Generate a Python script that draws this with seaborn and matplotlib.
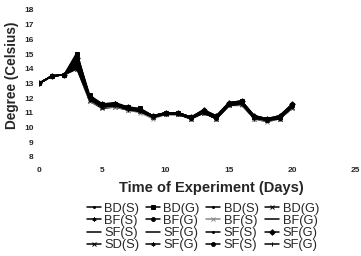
import numpy as np
import pandas as pd
import matplotlib
matplotlib.use("Agg")
import matplotlib.pyplot as plt
import seaborn as sns

# Days of the experiment
days = list(range(21))

# Legend labels (column-major order so the 4x4 legend reads row by row)
labels = ["BD(S)", "BF(S)", "SF(S)", "SD(S)",
          "BD(G)", "BF(G)", "SF(G)", "SF(G)",
          "BD(S)", "BF(S)", "SF(S)", "SF(S)",
          "BD(G)", "BF(G)", "SF(G)", "SF(G)"]

# Temperature readings (Celsius), one list per series
s01 = [13.0, 13.5, 13.6, 15.1, 12.0, 11.5, 11.6, 11.3, 11.2, 10.7, 11.0, 11.0, 10.6, 11.1, 10.7, 11.6, 11.7, 10.7, 10.5, 10.6, 11.5]
s02 = [13.0, 13.5, 13.6, 14.8, 12.1, 11.6, 11.7, 11.4, 11.2, 10.8, 11.0, 11.0, 10.7, 11.2, 10.7, 11.7, 11.8, 10.8, 10.6, 10.7, 11.6]
s03 = [13.0, 13.5, 13.6, 14.2, 11.9, 11.4, 11.5, 11.3, 11.1, 10.7, 10.9, 10.9, 10.6, 11.0, 10.6, 11.5, 11.6, 10.6, 10.5, 10.6, 11.4]
s04 = [13.0, 13.5, 13.6, 14.0, 11.8, 11.3, 11.4, 11.2, 11.1, 10.7, 10.9, 10.9, 10.6, 11.0, 10.6, 11.5, 11.6, 10.6, 10.5, 10.6, 11.3]
s05 = [13.0, 13.5, 13.6, 15.0, 12.2, 11.6, 11.6, 11.4, 11.3, 10.8, 11.0, 11.0, 10.7, 11.1, 10.7, 11.6, 11.8, 10.7, 10.6, 10.7, 11.5]
s06 = [13.0, 13.5, 13.6, 14.5, 12.0, 11.5, 11.5, 11.3, 11.2, 10.7, 11.0, 11.0, 10.7, 11.1, 10.7, 11.6, 11.7, 10.7, 10.5, 10.7, 11.5]
s07 = [13.0, 13.5, 13.6, 14.1, 11.9, 11.4, 11.4, 11.2, 11.1, 10.7, 10.9, 10.9, 10.6, 11.0, 10.6, 11.5, 11.6, 10.6, 10.4, 10.6, 11.4]
s08 = [13.0, 13.5, 13.6, 14.3, 12.0, 11.5, 11.5, 11.3, 11.2, 10.8, 11.0, 11.0, 10.7, 11.1, 10.7, 11.6, 11.7, 10.7, 10.5, 10.7, 11.5]
s09 = [13.0, 13.5, 13.6, 14.9, 12.1, 11.6, 11.6, 11.4, 11.2, 10.8, 11.0, 11.0, 10.7, 11.2, 10.8, 11.7, 11.8, 10.8, 10.6, 10.8, 11.6]
s10 = [13.0, 13.5, 13.6, 14.0, 11.8, 11.4, 11.4, 11.2, 11.0, 10.6, 10.9, 10.9, 10.6, 11.0, 10.6, 11.5, 11.5, 10.6, 10.4, 10.6, 11.3]
s11 = [13.0, 13.5, 13.6, 14.4, 12.0, 11.5, 11.5, 11.3, 11.1, 10.7, 11.0, 11.0, 10.6, 11.1, 10.7, 11.6, 11.7, 10.7, 10.5, 10.6, 11.4]
s12 = [13.0, 13.5, 13.6, 14.6, 12.1, 11.5, 11.6, 11.4, 11.2, 10.8, 11.0, 11.0, 10.7, 11.1, 10.7, 11.6, 11.7, 10.7, 10.5, 10.7, 11.5]
s13 = [13.0, 13.5, 13.6, 14.0, 11.9, 11.4, 11.5, 11.3, 11.1, 10.7, 10.9, 10.9, 10.6, 11.0, 10.6, 11.5, 11.6, 10.7, 10.5, 10.6, 11.4]
s14 = [13.0, 13.5, 13.6, 14.2, 12.0, 11.5, 11.5, 11.3, 11.2, 10.7, 11.0, 11.0, 10.7, 11.1, 10.7, 11.6, 11.7, 10.7, 10.5, 10.7, 11.5]
s15 = [13.0, 13.5, 13.6, 14.7, 12.1, 11.6, 11.6, 11.4, 11.2, 10.8, 11.0, 11.0, 10.7, 11.2, 10.8, 11.7, 11.8, 10.8, 10.6, 10.8, 11.6]
s16 = [13.0, 13.5, 13.6, 14.1, 11.9, 11.4, 11.5, 11.2, 11.1, 10.7, 10.9, 10.9, 10.6, 11.0, 10.6, 11.5, 11.6, 10.6, 10.5, 10.6, 11.4]
series = [s01, s02, s03, s04, s05, s06, s07, s08, s09, s10, s11, s12, s13, s14, s15, s16]

# Marker style for each series (same order as labels)
asterisk = (6, 2, 0)
markers = [".", asterisk, None, "x",
           "s", "o", None, asterisk,
           ".", "x", ".", "o",
           "x", None, "D", "|"]
colors = ["black", "black", "black", "black",
          "black", "black", "black", "black",
          "black", "#888888", "black", "black",
          "black", "black", "black", "black"]

sns.set_style("white")
plt.rcParams['font.family'] = ['Liberation Sans', 'DejaVu Sans']

fig = plt.figure(figsize=(3.61, 2.56), dpi=100)
ax = fig.add_axes([0.108, 0.387, 0.877, 0.574])

for vals, lab, mk, col in zip(series, labels, markers, colors):
    df = pd.DataFrame({"day": days, "temp": vals})
    sns.lineplot(data=df, x="day", y="temp", ax=ax, color=col, lw=1.1,
                 marker=mk, markersize=2.8, markeredgewidth=0.7,
                 markeredgecolor=col, label=lab)

ax.set_xlim(0, 25)
ax.set_ylim(8, 18)
ax.set_xticks([0, 5, 10, 15, 20, 25])
ax.set_yticks(range(8, 19))
ax.tick_params(axis="y", labelsize=6, length=2, color="#cccccc", pad=2)
ax.tick_params(axis="x", labelsize=6, length=0, pad=7)
for lbl in ax.get_xticklabels() + ax.get_yticklabels():
    lbl.set_fontweight("bold")
for sp in ax.spines.values():
    sp.set_visible(False)

ax.set_xlabel("Time of Experiment (Days)", fontsize=10.5, fontweight="bold")
ax.set_ylabel("Degree (Celsius)", fontsize=9.8, fontweight="bold")
ax.xaxis.set_label_coords(0.544, -0.163)
ax.yaxis.set_label_coords(-0.063, 0.558)

ax.legend(ncol=4, loc="center", bbox_to_anchor=(203 / 361, 1 - 227 / 256),
          bbox_transform=fig.transFigure, frameon=False, fontsize=9.3,
          handlelength=1.1, handletextpad=0.25, columnspacing=0.5,
          labelspacing=0.0, borderpad=0, markerscale=1.0)

fig.savefig("out.png", dpi=100)
